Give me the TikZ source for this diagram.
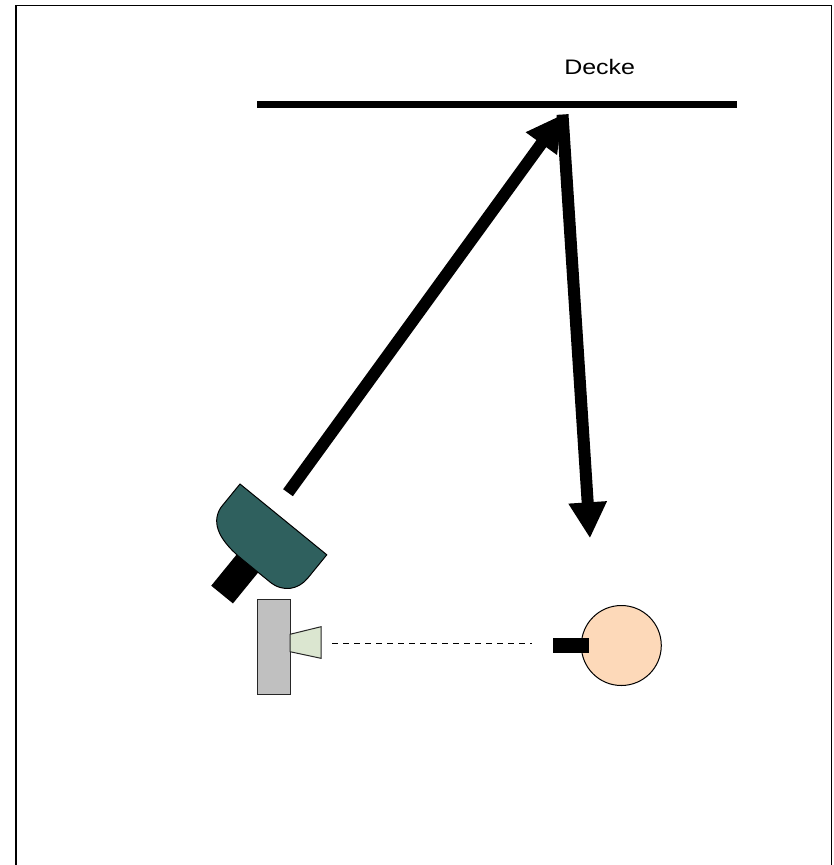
\documentclass[tikz,border=0pt]{standalone}
\usepackage{fontspec}
\setmainfont{Liberation Sans}
\usetikzlibrary{arrows.meta}
\definecolor{dishteal}{RGB}{47,96,94}
\definecolor{boxgray}{RGB}{192,192,192}
\definecolor{hornGreen}{RGB}{219,230,208}
\definecolor{skin}{RGB}{253,217,185}
\begin{document}
\begin{tikzpicture}[x=1pt,y=-1pt,
  beam/.style={line width=12pt,-{Triangle[length=36pt,width=36pt]}},
  outline/.style={draw=black,line width=1pt},
  label/.style={font=\fontsize{21}{25}\selectfont,inner sep=0pt}]
\useasboundingbox (0,0) rectangle (834,865);

% room frame, open at the bottom
\draw[line width=1.6pt] (16,865) -- (16,5.3) -- (831.5,5.3) -- (831.5,865);

% ceiling
\coordinate (ceilL) at (257,104);
\coordinate (ceilR) at (737,104);
\draw[line width=7pt] (ceilL) -- (ceilR);
\node[label,anchor=base] (decke) at (599.7,74.3) {\scalebox{1.19}[1]{Decke}};

% dish antenna on its mount
\begin{scope}[shift={(240,484)},rotate=-39.2]
  \fill[black] (42,35) rectangle (70,97);
  \draw[outline,fill=dishteal] (0,0) -- (0,30)
    .. controls (2,50) and (22,57) .. (50,57) -- (85,57)
    .. controls (102,57) and (112,45) .. (112,30) -- (112,0) -- cycle;
\end{scope}

% loudspeaker box with horn
\node[outline,draw=black!85,fill=boxgray,minimum width=32.7pt,minimum height=94.7pt,inner sep=0pt]
  (box) at (273.65,646.65) {};
\draw[outline,draw=black!85,fill=hornGreen]
  (290,634.3) -- (321,626.7) -- (321,658.3) -- (290,651.7) -- cycle;
\coordinate (hornOut) at (332,643.3);

% listener head with ear
\node[outline,circle,fill=skin,minimum size=80pt,inner sep=0pt] (head) at (621.3,645.5) {};
\node[fill=black,minimum width=36.6pt,minimum height=15.6pt,inner sep=0pt] (ear) at (571,645.5) {};
\coordinate (earIn) at (532,643.3);

% direct path
\draw[line width=1pt,dash pattern=on 6pt off 5pt] (hornOut) -- (earIn);

% reflected beam via the ceiling
\coordinate (dishOut) at (288,492.7);
\coordinate (bounce) at (562.5,114.5);
\coordinate (target) at (590,538.3);
\draw[beam] (dishOut) -- (bounce);
\draw[beam] (bounce) -- (target);
\end{tikzpicture}
\end{document}
